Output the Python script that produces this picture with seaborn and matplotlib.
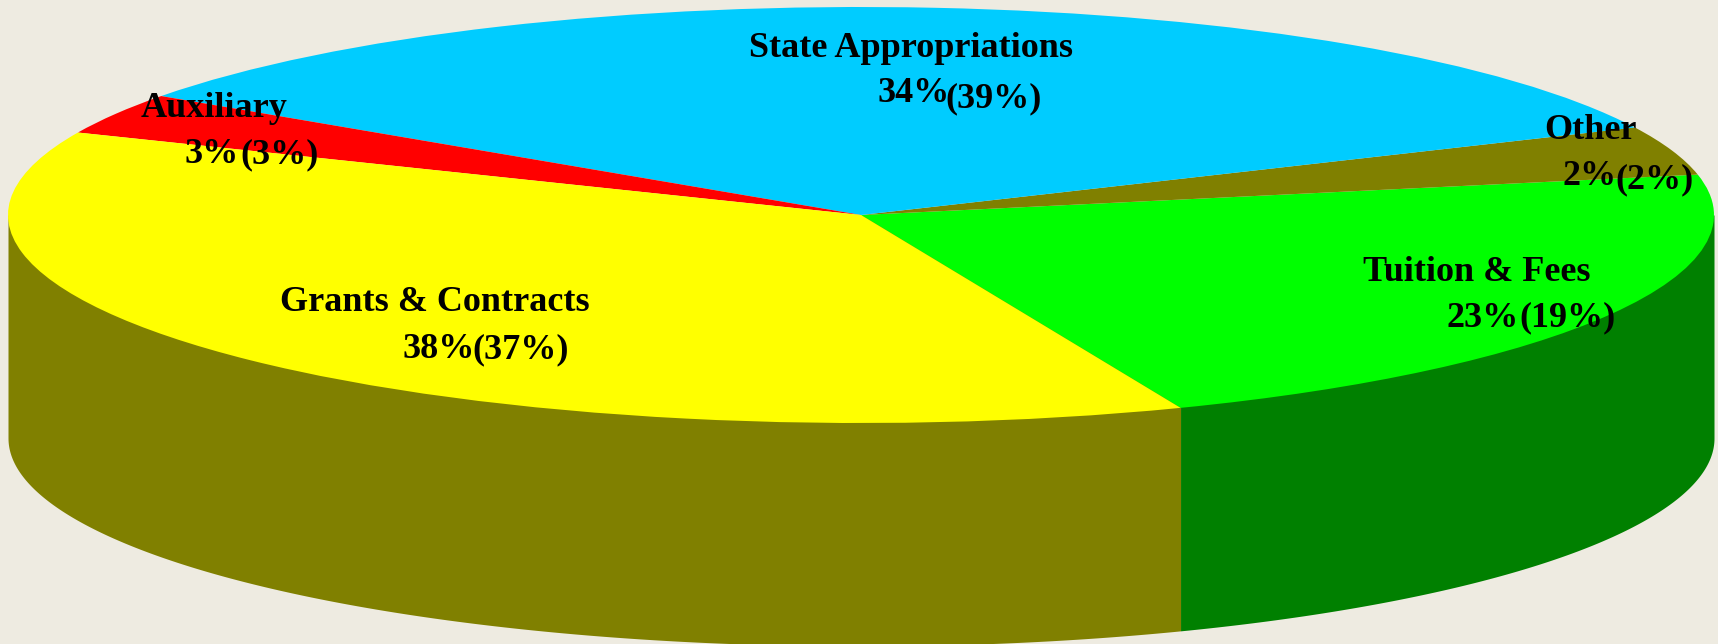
import numpy as np
import seaborn as sns
import matplotlib.pyplot as plt

# Slices, counter-clockwise starting at the front edge
# Drawn sizes are read off the slice edges, the printed figures from the labels
labels = ["Tuition & Fees", "Other", "State Appropriations", "Auxiliary", "Grants & Contracts"]
shares = [22.0, 3.8, 33.4, 3.2, 37.6]
shares_text = ["23%", "2%", "34%", "3%", "38%"]
prior_text = ["(19%)", "(2%)", "(39%)", "(3%)", "(37%)"]

top_colors = ["#00FF00", "#808000", "#00CCFF", "#FF0000", "#FFFF00"]
wall_left = "#808000"
wall_right = "#008000"
background = "#EEEBE1"

W, H = 1718, 644
cx, cy, a, b = 861, 215, 853, 208   # ellipse of the top face, in pixels
depth = 223 / b
start_angle = -68

sns.set_theme(style="white", rc={"figure.facecolor": background, "axes.facecolor": background})
plt.rcParams["font.family"] = ["Liberation Serif", "DejaVu Serif"]

fig = plt.figure(figsize=(W / 100, H / 100), dpi=100)
ax = fig.add_axes([0, 0, 1, 1])

# Front wall first, the top face goes over it
for a0, a1, color in [(-180, start_angle, wall_left), (start_angle, 0, wall_right)]:
    t = np.radians(np.linspace(a0, a1, 400))
    ax.fill_between(np.cos(t), -depth + np.sin(t), 0, color=color, linewidth=0)

ax.pie(shares, colors=sns.color_palette(top_colors), startangle=start_angle, counterclock=True,
       center=(0, 0), radius=1, wedgeprops={"linewidth": 0})

ax.set_aspect("auto")
ax.set_xlim(-cx / a, (W - cx) / a)
ax.set_ylim(-(H - cy) / b, cy / b)
ax.axis("off")


def put(x, y, s, size=26):
    fig.text(x / W, 1 - y / H, s, fontsize=size, fontweight="bold", color="black", ha="left", va="baseline")


# Pixel anchors for the text: name, this year, last year
name_pos = [(1363, 281), (1544, 139), (749, 57), (141, 117), (280, 311)]
share_pos = [(1447, 327), (1563, 185), (877, 102), (185, 163), (402, 358)]
prior_pos = [(1519, 326), (1615, 188), (945, 107), (240, 163), (472, 358)]

for i, name in enumerate(labels):
    put(*name_pos[i], name)
    put(*share_pos[i], shares_text[i])
    put(*prior_pos[i], prior_text[i])

fig.savefig("out.png", dpi=100, facecolor=background)
plt.close(fig)
